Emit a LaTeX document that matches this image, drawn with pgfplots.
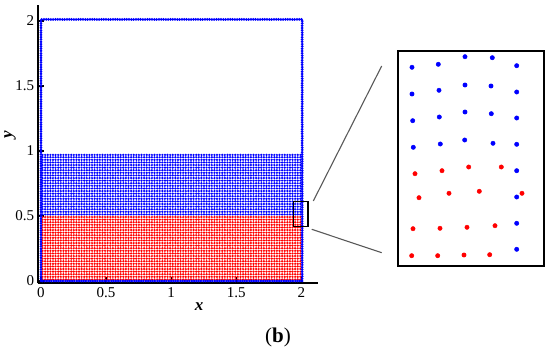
\documentclass[border=0pt]{standalone}
\usepackage{pgfplots}
\pgfplotsset{compat=1.18}
\usepackage{fontspec}
\setmainfont{Liberation Serif}
\begin{document}
\begin{tikzpicture}[font=\fontsize{15pt}{17pt}\selectfont]
\useasboundingbox (0pt,0pt) rectangle (550pt,-352pt);
\begin{axis}[
  at={(41pt,-281pt)}, anchor=origin,
  x=130.2pt, y=130pt,
  xmin=-0.025, xmax=2.13, ymin=-0.018, ymax=2.12,
  axis lines*=left,
  axis line style={line width=1.8pt, black},
  tick align=inside, major tick length=6pt,
  tick style={black, line width=1.3pt},
  xtick={0,0.5,1,1.5,2}, ytick={0,0.5,1,1.5,2},
  /pgf/number format/assume math mode=true,
  tick label style={font=\fontsize{15pt}{17pt}\selectfont},
  xticklabel style={yshift=-1pt},
  xlabel={\textbf{\textit{x}}},
  ylabel={\textbf{\textit{y}}},
  label style={font=\fontsize{17pt}{19pt}\selectfont},
  xlabel style={at={(axis cs:1.214,-0.2)}, anchor=center},
  ylabel style={at={(axis cs:-0.238,1.123)}, anchor=center},
  clip=false,
]
% red fluid rows (y of each particle row)
\pgfplotsinvokeforeach{0.012,0.032,0.052,0.072,0.092,0.112,0.132,0.152,0.172,0.192,0.212,0.232,0.252,0.272,0.292,0.312,0.332,0.352,0.372,0.392,0.412,0.432,0.452,0.472,0.492}{
  \addplot[red, line width=2.4pt, line cap=round, dash pattern=on 0pt off 2.604pt] coordinates {(0.012,#1) (1.992,#1)};
}
% blue fluid rows
\pgfplotsinvokeforeach{0.512,0.532,0.552,0.572,0.592,0.612,0.632,0.652,0.672,0.692,0.712,0.732,0.752,0.772,0.792,0.812,0.832,0.852,0.872,0.892,0.912,0.932,0.952,0.970}{
  \addplot[blue, line width=2.4pt, line cap=round, dash pattern=on 0pt off 2.604pt] coordinates {(0.012,#1) (1.992,#1)};
}
% walls
\addplot[blue, line width=3pt, line cap=round, dash pattern=on 0pt off 2.3pt] coordinates {(0,0) (0,2.012) (2.006,2.012) (2.006,0) (0,0)};
% zoom box
\draw[black, line width=1.3pt] (axis cs:1.938,0.418) rectangle (axis cs:2.051,0.610);
\end{axis}
% connector lines
\draw[gray!70!black, line width=1.1pt] (313.3pt,-201pt) -- (381.7pt,-66pt);
\draw[gray!70!black, line width=1.1pt] (311.7pt,-229.3pt) -- (381.7pt,-252.7pt);
% inset
\begin{axis}[
  at={(398pt,-266pt)}, anchor=south west,
  scale only axis, width=146pt, height=215pt,
  xmin=398, xmax=544, ymin=51, ymax=266, y dir=reverse,
  xtick=\empty, ytick=\empty,
  axis line style={line width=1.6pt, black},
]
\addplot[only marks, mark=*, mark size=2.2pt, blue, mark options={draw=none, fill=blue}] coordinates {
(412,67.3) (438.3,64.3) (465,56.7) (492.3,57.7) (516.7,65.7)
(412,94) (439,90.3) (465,85) (491,86) (516.7,92)
(412.7,120.7) (439.3,117) (465,112) (491.3,113.7) (516.7,118)
(413.3,147.3) (440.3,144) (464.7,140) (493,143.3) (516.7,144.3)
(516.7,170.7) (516.7,197) (516.7,223.3) (516.7,249.3)
};
\addplot[only marks, mark=*, mark size=2.2pt, red, mark options={draw=none, fill=red}] coordinates {
(415,173.7) (442,170.7) (468.7,167) (501.3,167)
(419,197.7) (449,193.3) (479.3,191.3) (522,193.3)
(413,228.7) (440,228.3) (467,227.3) (495,225.7)
(411.7,255.7) (437.7,255.7) (464,255) (489.7,254.7)
};
\end{axis}
\node[font=\fontsize{21pt}{24pt}\selectfont] at (278pt,-337pt) {(\textbf{b})};
\end{tikzpicture}
\end{document}
